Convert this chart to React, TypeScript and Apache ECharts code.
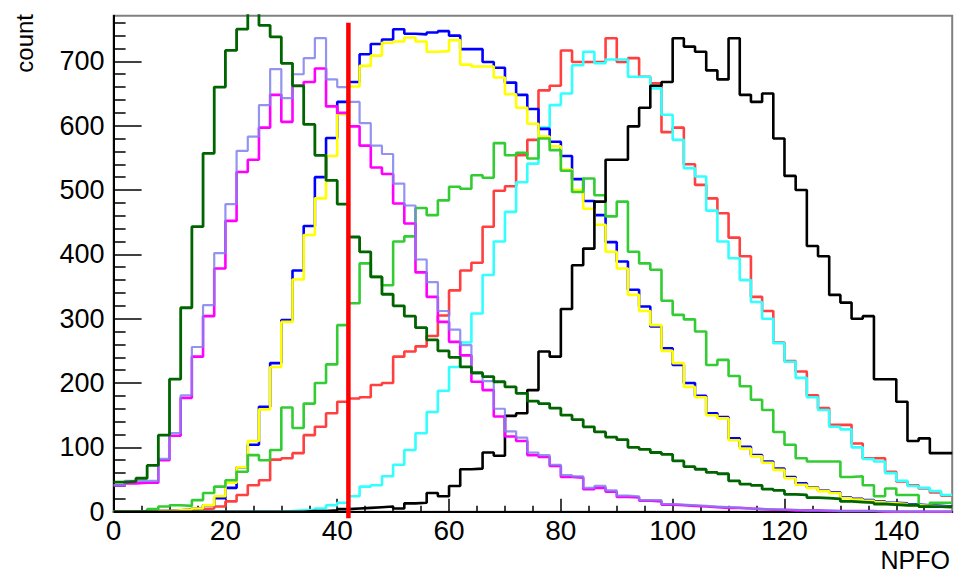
import React, { useEffect, useRef } from "react";
import * as echarts from "echarts";

// Histogram bins: 75 bins of width 2 covering NPFO 0..150
const binWidth = 2;

const darkGreenCounts = [
  46, 47, 52, 72, 119, 206, 317, 443, 557, 660,
  717, 750, 790, 756, 738, 697, 662, 602, 554, 515,
  478, 427, 404, 365, 338, 320, 304, 286, 267, 250,
  240, 225, 216, 210, 202, 194, 184, 172, 168, 161,
  150, 143, 132, 124, 116, 112, 100, 97, 92, 89,
  79, 70, 66, 61, 59, 48, 43, 41, 35, 33,
  27, 26, 22, 21, 20, 16, 15, 14, 12, 11,
  10, 10, 8, 8, 7,
];

const lavenderCounts = [
  41, 48, 48, 48, 82, 122, 181, 256, 321, 402,
  478, 561, 583, 632, 688, 643, 680, 705, 736, 672,
  660, 637, 604, 569, 556, 510, 476, 392, 357, 312,
  283, 259, 215, 203, 160, 125, 115, 92, 88, 73,
  57, 55, 37, 40, 33, 25, 24, 18, 18, 12,
  11, 10, 9, 8, 7, 6, 5, 4, 4, 3,
  3, 2, 2, 2, 1, 1, 1, 1, 1, 0,
  0, 0, 0, 0, 0,
];

const magentaCounts = [
  41, 44, 45, 45, 80, 118, 177, 241, 304, 378,
  452, 528, 547, 597, 648, 606, 662, 668, 689, 630,
  620, 599, 569, 535, 525, 479, 448, 372, 334, 295,
  264, 243, 202, 189, 148, 117, 110, 88, 85, 71,
  54, 53, 35, 37, 31, 23, 22, 17, 16, 11,
  10, 9, 8, 7, 6, 6, 5, 4, 3, 3,
  2, 2, 2, 1, 1, 1, 1, 1, 0, 0,
  0, 0, 0, 0, 0,
];

const blueCounts = [
  0, 0, 0, 1, 1, 2, 3, 5, 10, 21,
  37, 69, 104, 163, 231, 298, 375, 444, 520, 581,
  637, 668, 711, 727, 734, 750, 743, 742, 745, 747,
  740, 719, 719, 699, 690, 667, 648, 626, 595, 575,
  553, 517, 483, 461, 419, 389, 345, 319, 288, 254,
  228, 200, 180, 153, 147, 114, 101, 88, 78, 67,
  54, 44, 38, 33, 30, 22, 20, 18, 16, 14,
  13, 11, 10, 9, 8,
];

const yellowCounts = [
  0, 0, 0, 1, 1, 2, 3, 5, 10, 24,
  45, 69, 110, 159, 225, 295, 361, 430, 487, 553,
  618, 661, 693, 709, 729, 731, 737, 731, 715, 716,
  733, 695, 692, 692, 675, 649, 628, 603, 583, 568,
  532, 500, 471, 446, 404, 378, 337, 312, 290, 250,
  231, 194, 178, 150, 145, 111, 98, 86, 76, 65,
  52, 42, 37, 32, 29, 21, 19, 17, 15, 13,
  12, 10, 9, 8, 7,
];

const greenCounts = [
  0, 0, 1, 4, 8, 10, 9, 18, 29, 39,
  49, 62, 88, 80, 96, 162, 130, 168, 200, 229,
  290, 324, 386, 365, 352, 420, 428, 472, 461, 484,
  505, 502, 523, 519, 573, 554, 558, 549, 580, 562,
  530, 497, 518, 492, 459, 482, 404, 386, 376, 328,
  306, 299, 280, 228, 236, 211, 195, 174, 158, 124,
  104, 83, 78, 78, 78, 54, 55, 41, 24, 36,
  26, 26, 8, 14, 14,
];

const redCounts = [
  0, 0, 0, 1, 1, 2, 3, 4, 5, 8,
  16, 26, 41, 49, 81, 83, 91, 119, 132, 153,
  171, 176, 178, 197, 200, 241, 249, 257, 273, 305,
  344, 375, 387, 443, 499, 506, 554, 578, 655, 662,
  717, 699, 699, 699, 736, 699, 705, 676, 666, 590,
  597, 540, 508, 487, 464, 426, 397, 334, 312, 263,
  234, 218, 181, 161, 135, 135, 106, 83, 83, 62,
  47, 41, 36, 30, 25,
];

const cyanCounts = [
  0, 0, 0, 0, 0, 0, 0, 0, 0, 0,
  0, 0, 0, 0, 0, 1, 2, 3, 5, 10,
  14, 24, 39, 41, 55, 73, 96, 122, 155, 188,
  225, 263, 308, 368, 420, 466, 512, 541, 597, 632,
  650, 694, 715, 697, 703, 703, 676, 676, 658, 617,
  578, 534, 521, 468, 420, 394, 360, 326, 300, 262,
  233, 208, 178, 158, 132, 128, 100, 82, 78, 60,
  48, 40, 37, 32, 26,
];

const blackCounts = [
  0, 0, 0, 0, 0, 0, 0, 0, 0, 0,
  0, 0, 0, 0, 0, 0, 0, 1, 1, 2,
  4, 5, 6, 7, 8, 5, 13, 14, 29, 24,
  40, 66, 67, 92, 87, 149, 153, 189, 249, 241,
  315, 383, 409, 482, 547, 547, 599, 628, 662, 668,
  736, 723, 715, 686, 672, 736, 648, 637, 650, 580,
  522, 500, 413, 397, 337, 325, 300, 304, 206, 206,
  171, 110, 114, 91, 91,
];

// Vertical cut line at NPFO = 42
const cutLineX = 42;
const cutLineRange = [-10, 760];

// Axis ticks / labels
const xMajorTicks = [0, 20, 40, 60, 80, 100, 120, 140];
const xMinorTicks = [5, 10, 15, 25, 30, 35, 45, 50, 55, 65, 70, 75, 85, 90, 95, 105, 110, 115, 125, 130, 135, 145];
const yMajorTicks = [0, 100, 200, 300, 400, 500, 600, 700];
const yMinorTicks = [
  20, 40, 60, 80, 120, 140, 160, 180, 220, 240, 260, 280, 320, 340, 360, 380,
  420, 440, 460, 480, 520, 540, 560, 580, 620, 640, 660, 680, 720, 740, 760,
];

const xMin = 0;
const xMax = 150;
const yMin = 0;
const yMax = 771;

function toSteps(values: number[]): number[][] {
  const pts = values.map((v, i) => [i * binWidth, v]);
  pts.push([values.length * binWidth, values[values.length - 1]]);
  return pts;
}

const FONT = "'Liberation Sans', Arial, Helvetica, sans-serif";

export default function App() {
  const ref = useRef<HTMLDivElement>(null);

  useEffect(() => {
    if (!ref.current) return;
    const chart = echarts.init(ref.current, undefined, { renderer: "svg" });

    const hist = (name: string, values: number[], color: string, width = 2.6, opacity = 1) => ({
      name,
      type: "line",
      step: "end",
      symbol: "none",
      data: toSteps(values),
      lineStyle: { color, width, opacity },
      itemStyle: { color },
      emphasis: { disabled: true },
      silent: true,
    });

    const option: any = {
      animation: false,
      backgroundColor: "#ffffff",
      grid: {
        left: 113.6,
        right: 1.8,
        top: 15.7,
        bottom: 61.3,
        show: true,
        borderColor: "#808080",
        borderWidth: 2,
        containLabel: false,
        outerBoundsMode: "none",
      },
      xAxis: [
        {
          type: "value",
          min: xMin,
          max: xMax,
          position: "bottom",
          axisLine: { show: true, onZero: false, lineStyle: { color: "#000", width: 2 } },
          axisTick: { show: true, inside: true, length: 13, customValues: xMajorTicks, lineStyle: { color: "#000", width: 1.5 } },
          axisLabel: { customValues: xMajorTicks, fontSize: 28, color: "#000", fontFamily: FONT, margin: 5 },
          splitLine: { show: false },
        },
        {
          type: "value",
          min: xMin,
          max: xMax,
          position: "bottom",
          axisLine: { show: false, onZero: false },
          axisTick: { show: true, inside: true, length: 6, customValues: xMinorTicks, lineStyle: { color: "#000", width: 1.5 } },
          axisLabel: { show: false },
          splitLine: { show: false },
        },
      ],
      yAxis: [
        {
          type: "value",
          min: yMin,
          max: yMax,
          position: "left",
          axisLine: { show: true, onZero: false, lineStyle: { color: "#000", width: 2 } },
          axisTick: { show: true, inside: true, length: 28, customValues: yMajorTicks, lineStyle: { color: "#000", width: 1.5 } },
          axisLabel: { customValues: yMajorTicks, fontSize: 27, color: "#000", fontFamily: FONT, margin: 9 },
          splitLine: { show: false },
        },
        {
          type: "value",
          min: yMin,
          max: yMax,
          position: "left",
          axisLine: { show: false, onZero: false },
          axisTick: { show: true, inside: true, length: 12, customValues: yMinorTicks, lineStyle: { color: "#000", width: 1.5 } },
          axisLabel: { show: false },
          splitLine: { show: false },
        },
      ],
      series: [
        hist("red", redCounts, "#ff4040"),
        hist("cyan", cyanCounts, "#33ffff"),
        hist("blue", blueCounts, "#0000ff"),
        hist("yellow", yellowCounts, "#ffff00"),
        hist("green", greenCounts, "#33cc33"),
        hist("black", blackCounts, "#000000"),
        hist("magenta", magentaCounts, "#ff00ff"),
        hist("lavender", lavenderCounts, "#8080ee", 2.2, 0.85),
        hist("darkgreen", darkGreenCounts, "#006400", 2.8),
        {
          name: "cut",
          type: "line",
          symbol: "none",
          clip: false,
          silent: true,
          data: [
            [cutLineX, cutLineRange[0]],
            [cutLineX, cutLineRange[1]],
          ],
          lineStyle: { color: "#ff0000", width: 4.5 },
          z: 5,
        },
      ],
      graphic: [
        {
          type: "text",
          x: 24,
          y: 14,
          rotation: Math.PI / 2,
          style: { text: "count", fontSize: 24, fontFamily: FONT, fill: "#000", align: "right", verticalAlign: "middle" },
        },
        {
          type: "text",
          x: 950,
          y: 572,
          style: { text: "NPFO", fontSize: 25, fontFamily: FONT, fill: "#000", align: "right", verticalAlign: "bottom" },
        },
      ],
    };

    chart.setOption(option);
    return () => chart.dispose();
  }, []);

  return (
    <div
      ref={ref}
      style={{ position: "absolute", left: 0, top: 0, width: 954, height: 573, background: "#fff" }}
    />
  );
}
